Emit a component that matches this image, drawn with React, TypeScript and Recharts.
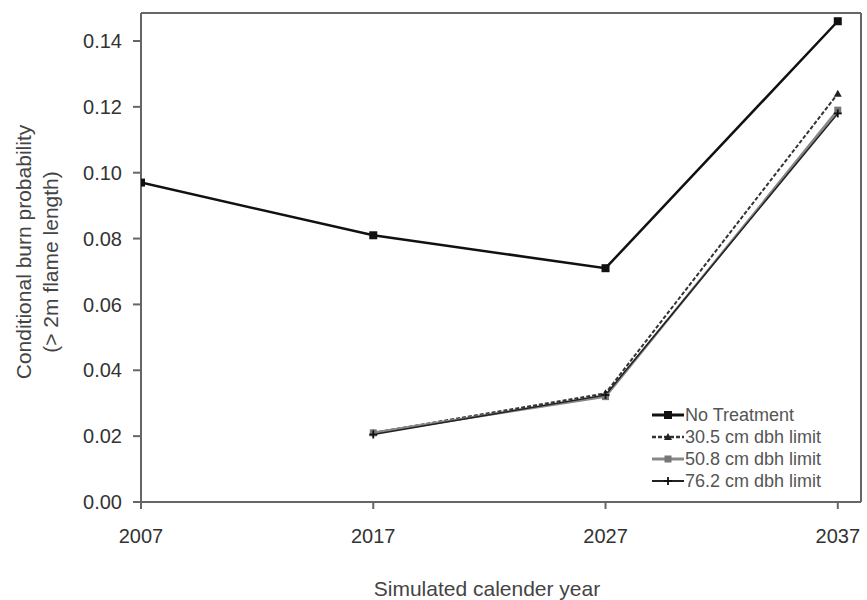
import React from "react";
import { LineChart, Line, XAxis, YAxis, ReferenceLine, Legend, Label } from "recharts";

const years = [2007, 2017, 2027, 2037];
const noTreatment = [0.097, 0.081, 0.071, 0.146];
const dbh305 = [null, 0.021, 0.033, 0.124];
const dbh508 = [null, 0.021, 0.032, 0.119];
const dbh762 = [null, 0.0205, 0.0325, 0.118];
const yTicks = [0, 0.02, 0.04, 0.06, 0.08, 0.1, 0.12, 0.14];
const xTicks = [2007, 2017, 2027, 2037];
const seriesNames = ["No Treatment", "30.5 cm dbh limit", "50.8 cm dbh limit", "76.2 cm dbh limit"];

const Y_MAX = 0.1485;
const FONT = "'Liberation Sans', Arial, sans-serif";
const AXIS = "#666";

const data = years.map((year, i) => ({
  year,
  nt: noTreatment[i],
  a: dbh305[i],
  b: dbh508[i],
  c: dbh762[i],
}));

type Kind = "square" | "tri" | "graysq" | "plus";

const series: { key: string; name: string; color: string; width: number; dash?: string; kind: Kind }[] = [
  { key: "nt", name: seriesNames[0], color: "#111", width: 2.5, kind: "square" },
  { key: "a", name: seriesNames[1], color: "#333", width: 2, dash: "4 2", kind: "tri" },
  { key: "b", name: seriesNames[2], color: "#888", width: 2.5, kind: "graysq" },
  { key: "c", name: seriesNames[3], color: "#222", width: 1.5, kind: "plus" },
];

function Marker({ cx, cy, kind }: { cx: number; cy: number; kind: Kind }) {
  if (kind === "square") return <rect x={cx - 4} y={cy - 4} width={8} height={8} fill="#111" />;
  if (kind === "graysq") return <rect x={cx - 3.5} y={cy - 3.5} width={7} height={7} fill="#777" />;
  if (kind === "tri")
    return <polygon points={`${cx},${cy - 4} ${cx + 4},${cy + 3} ${cx - 4},${cy + 3}`} fill="#222" />;
  return (
    <g stroke="#111" strokeWidth={1.8}>
      <line x1={cx - 4} y1={cy} x2={cx + 4} y2={cy} />
      <line x1={cx} y1={cy - 4} x2={cx} y2={cy + 4} />
    </g>
  );
}

const makeDot = (kind: Kind) => (props: any) => {
  const { cx, cy, index, value } = props;
  if (cx == null || cy == null || value == null || Number.isNaN(cy)) return <g key={`e-${kind}-${index}`} />;
  return (
    <g key={`d-${kind}-${index}`}>
      <Marker cx={cx} cy={cy} kind={kind} />
    </g>
  );
};

const renderLegend = () => (
  <div style={{ fontFamily: FONT, fontSize: 18, color: "#555", lineHeight: "21px", textAlign: "left" }}>
    {series.map((s) => (
      <div key={s.key} style={{ display: "flex", alignItems: "center", height: 22 }}>
        <svg width={32} height={14} style={{ marginRight: 1 }}>
          <line x1={0} y1={7} x2={32} y2={7} stroke={s.color} strokeWidth={s.width + 0.5} strokeDasharray={s.dash} />
          <Marker cx={16} cy={7} kind={s.kind} />
        </svg>
        <span>{s.name}</span>
      </div>
    ))}
  </div>
);

const YTitle = () => (
  <g fontFamily={FONT} fontSize={21} fill="#444">
    <text x={23} y={252} transform="rotate(-90 23 252)" textAnchor="middle" dominantBaseline="central">
      Conditional burn probability
    </text>
    <text x={50} y={262} transform="rotate(-90 50 262)" textAnchor="middle" dominantBaseline="central">
      (&gt; 2m flame length)
    </text>
  </g>
);

export default function App() {
  return (
    <div style={{ position: "absolute", left: 0, top: 0, width: 867, height: 600, background: "#fff" }}>
      <LineChart width={867} height={600} data={data} margin={{ top: 13, right: 0, left: 0, bottom: 0 }}>
        <XAxis
          dataKey="year"
          type="number"
          domain={[2007, 2038]}
          ticks={xTicks}
          allowDataOverflow
          height={98}
          tickSize={7}
          tickMargin={20}
          stroke={AXIS}
          axisLine={{ stroke: AXIS, strokeWidth: 2 }}
          tickLine={{ stroke: AXIS, strokeWidth: 2 }}
          tick={{ fill: "#333", fontSize: 20, fontFamily: FONT }}
        >
          <Label
            value="Simulated calender year"
            position="insideBottom"
            offset={4}
            dx={-14}
            style={{ fill: "#444", fontSize: 21, fontFamily: FONT }}
          />
        </XAxis>
        <YAxis
          yAxisId="l"
          domain={[0, Y_MAX]}
          ticks={yTicks}
          allowDataOverflow
          width={141}
          tickSize={8}
          tickMargin={11}
          tickFormatter={(v: number) => v.toFixed(2)}
          axisLine={{ stroke: AXIS, strokeWidth: 2 }}
          tickLine={{ stroke: AXIS, strokeWidth: 2 }}
          tick={{ fill: "#333", fontSize: 20, fontFamily: FONT }}
        >
          <Label content={() => <YTitle />} />
        </YAxis>
        <YAxis
          yAxisId="r"
          orientation="right"
          domain={[0, Y_MAX]}
          ticks={yTicks}
          allowDataOverflow
          width={6}
          tickSize={6}
          tick={false}
          axisLine={{ stroke: AXIS, strokeWidth: 2 }}
          tickLine={{ stroke: AXIS, strokeWidth: 2 }}
        />
        <ReferenceLine yAxisId="l" y={Y_MAX} stroke={AXIS} strokeWidth={2} />
        {series.map((s) => (
          <Line
            key={s.key}
            yAxisId="l"
            type="linear"
            dataKey={s.key}
            name={s.name}
            stroke={s.color}
            strokeWidth={s.width}
            strokeDasharray={s.dash}
            dot={makeDot(s.kind)}
            activeDot={false}
            connectNulls={false}
            isAnimationActive={false}
          />
        ))}
        <Legend
          content={renderLegend}
          layout="horizontal"
          verticalAlign="middle"
          align="center"
          wrapperStyle={{ position: "absolute", left: 652, top: 404, width: 205 }}
        />
      </LineChart>
    </div>
  );
}
